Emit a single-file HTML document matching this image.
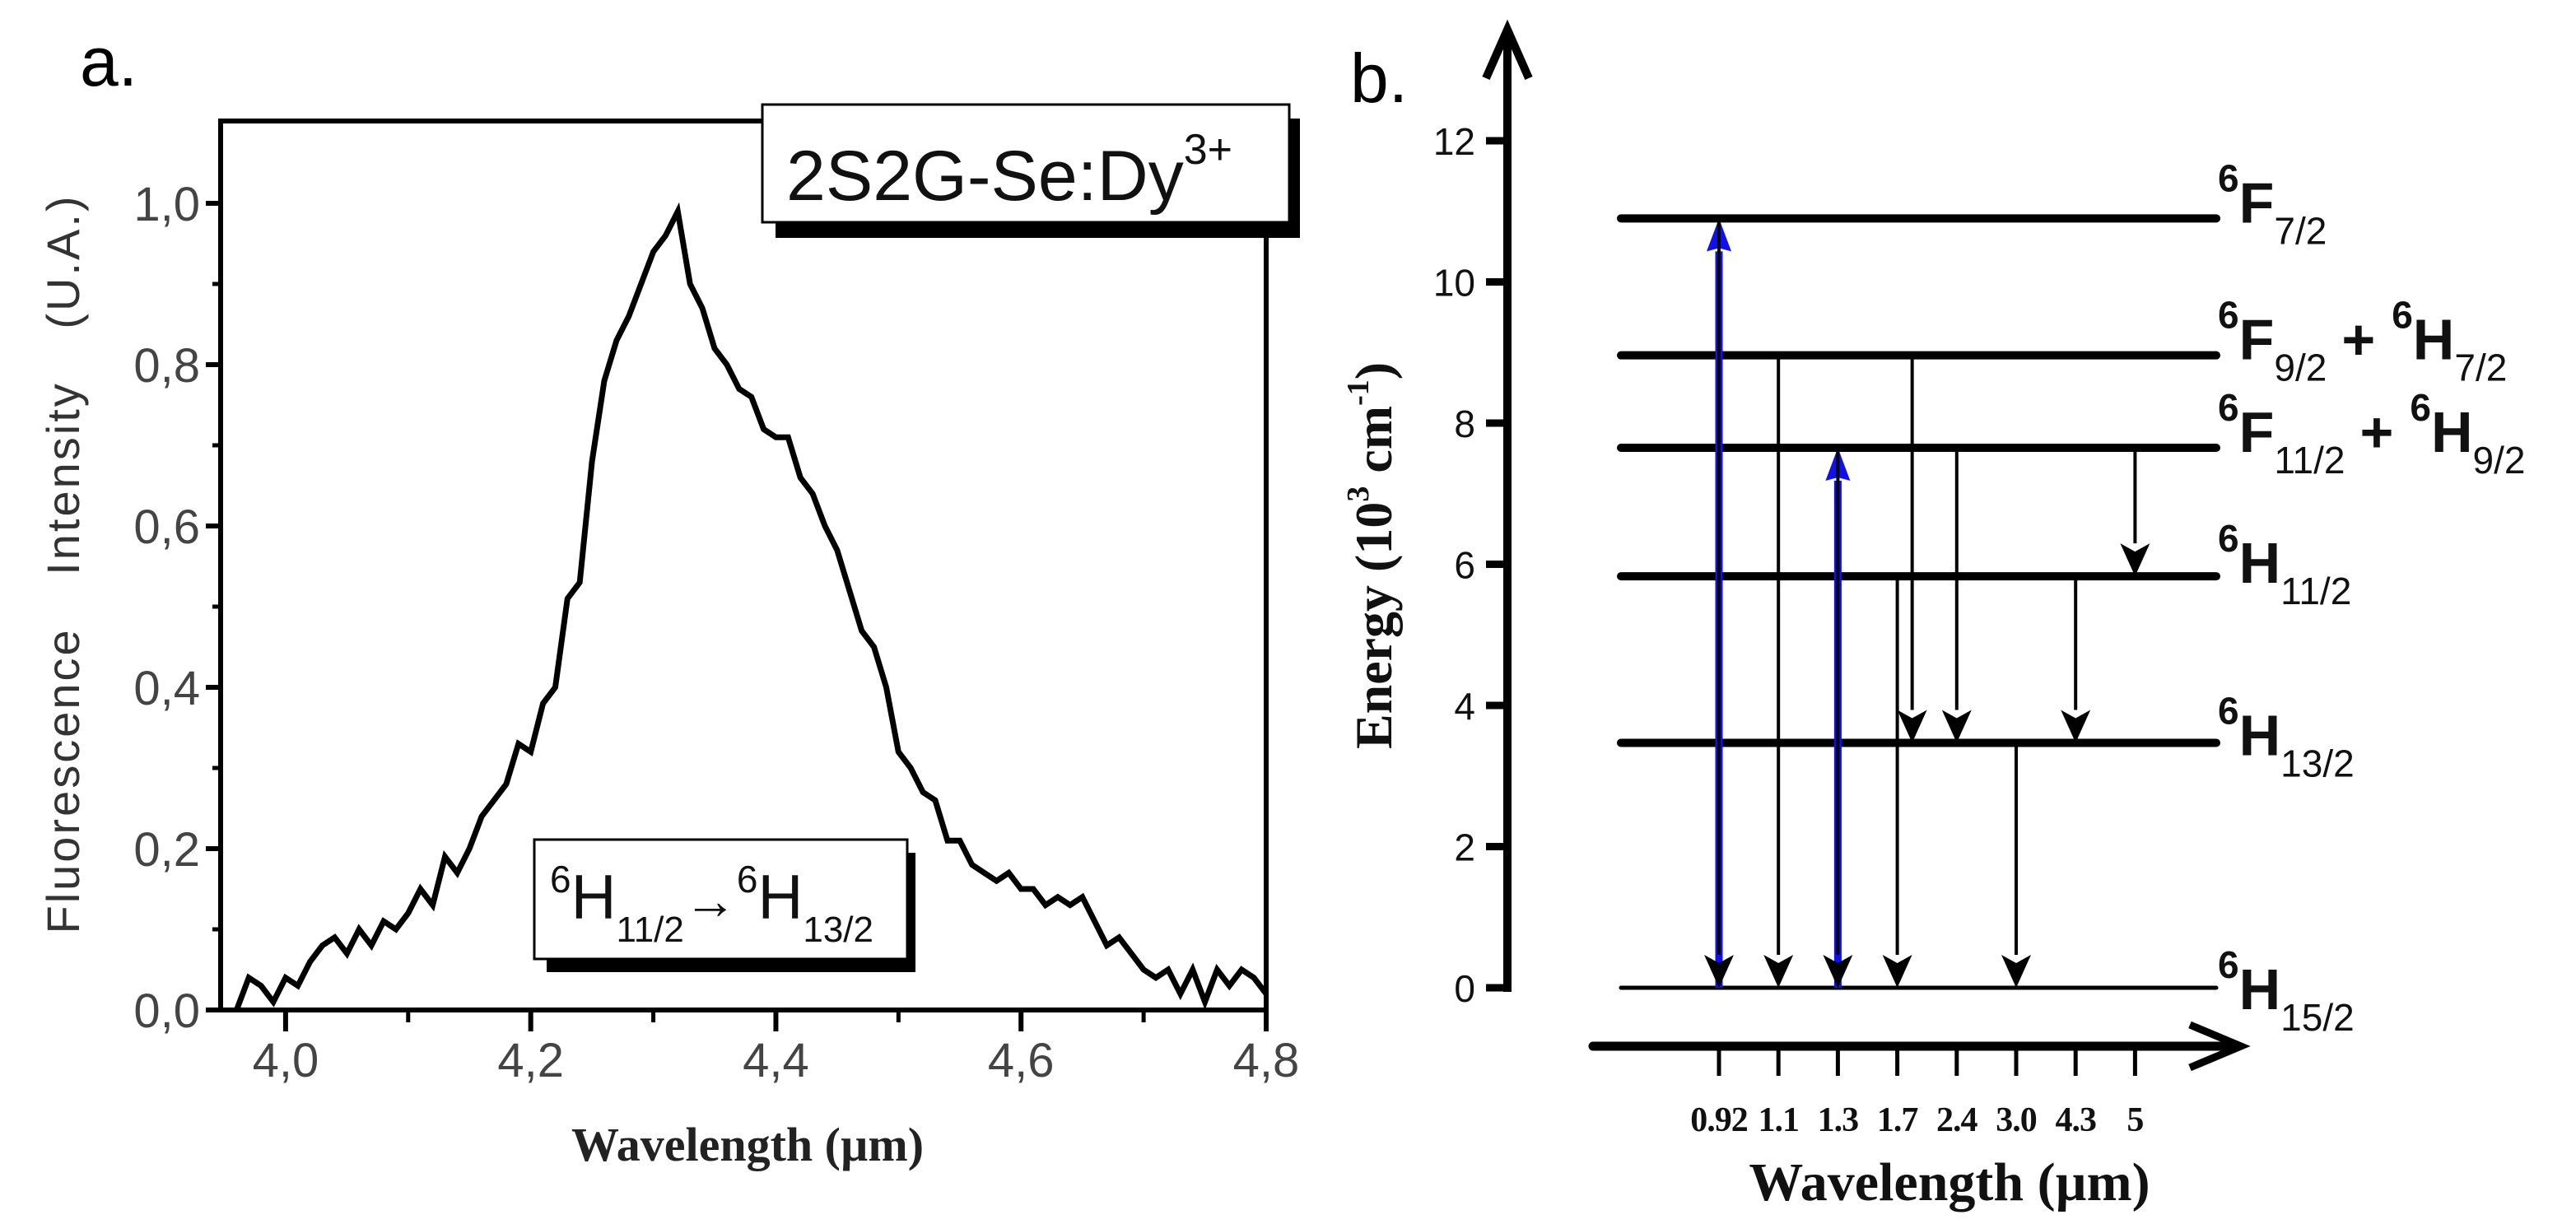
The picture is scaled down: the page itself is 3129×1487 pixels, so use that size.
<!DOCTYPE html>
<html><head><meta charset="utf-8"><style>
html,body{margin:0;padding:0;background:#fff;}
svg{display:block;}
</style></head><body>
<svg id="fig" xmlns="http://www.w3.org/2000/svg" width="3129" height="1487" viewBox="0 0 3129 1487">
<rect x="0" y="0" width="3129" height="1487" fill="#fff"/>
<g id="panelA"></g>
<g id="panelB"></g>
</svg>
<script>
// ---- Panel A data ----
const specX = [3.96,3.97,3.98,3.99,4.00,4.01,4.02,4.03,4.04,4.05,4.06,4.07,4.08,4.09,4.10,4.11,4.12,4.13,4.14,4.15,4.16,4.17,4.18,4.19,4.20,4.21,4.22,4.23,4.24,4.25,4.26,4.27,4.28,4.29,4.30,4.31,4.32,4.33,4.34,4.35,4.36,4.37,4.38,4.39,4.40,4.41,4.42,4.43,4.44,4.45,4.46,4.47,4.48,4.49,4.50,4.51,4.52,4.53,4.54,4.55,4.56,4.57,4.58,4.59,4.60,4.61,4.62,4.63,4.64,4.65,4.66,4.67,4.68,4.69,4.70,4.71,4.72,4.73,4.74,4.75,4.76,4.77,4.78,4.79,4.80];
const specY = [0.00,0.04,0.03,0.01,0.04,0.03,0.06,0.08,0.09,0.07,0.10,0.08,0.11,0.10,0.12,0.15,0.13,0.19,0.17,0.20,0.24,0.26,0.28,0.33,0.32,0.38,0.40,0.51,0.53,0.68,0.78,0.83,0.86,0.90,0.94,0.96,0.99,0.90,0.87,0.82,0.80,0.77,0.76,0.72,0.71,0.71,0.66,0.64,0.60,0.57,0.52,0.47,0.45,0.40,0.32,0.30,0.27,0.26,0.21,0.21,0.18,0.17,0.16,0.17,0.15,0.15,0.13,0.14,0.13,0.14,0.11,0.08,0.09,0.07,0.05,0.04,0.05,0.02,0.05,0.01,0.05,0.03,0.05,0.04,0.02];
const xTickVals = [4.0,4.2,4.4,4.6,4.8];
const xTickLabels = ["4,0","4,2","4,4","4,6","4,8"];
const xMinorVals = [4.1,4.3,4.5,4.7];
const yTickVals = [0,0.2,0.4,0.6,0.8,1.0];
const yTickLabels = ["0,0","0,2","0,4","0,6","0,8","1,0"];
const yMinorVals = [0.1,0.3,0.5,0.7,0.9];

// ---- Panel B data ----
const energyTickVals = [0,2,4,6,8,10,12];
const energyTickLabels = ["0","2","4","6","8","10","12"];
const levelEnergies = [10.9,8.96,7.65,5.83,3.47,0];
const wlCategories = ["0.92","1.1","1.3","1.7","2.4","3.0","4.3","5"];
const transPos  = [0,    0,    1,    2,    2,    3,    3.25, 4,    5,    6,    7];
const transFrom = [0,    10.9, 8.96, 0,    7.65, 5.83, 8.96, 7.65, 3.47, 5.83, 7.65];
const transTo   = [10.9, 0,    0,    7.65, 0,    0,    3.47, 3.47, 0,    3.47, 5.83];
const transBlue = [true, false,false,true, false,false,false,false,false,false,false];

const NS="http://www.w3.org/2000/svg";
function mk(tag, parent, attrs){const e=document.createElementNS(NS,tag);for(const k in attrs)e.setAttribute(k,attrs[k]);parent.appendChild(e);return e;}

// ===== Panel A =====
const A=document.getElementById('panelA');
const L=268,R=1538,T=147,B=1227;
const xMin=3.947,xMax=4.8,yMin=0,yMax=1.102;
const sx=v=>L+(v-xMin)/(xMax-xMin)*(R-L);
const sy=v=>B-(v-yMin)/(yMax-yMin)*(B-T);

let t=mk('text',A,{x:97,y:104,'font-family':'Liberation Sans, sans-serif','font-size':84,fill:'#000'});
t.textContent='a.';



let pts=specX.map((x,i)=>sx(x).toFixed(1)+','+sy(specY[i]).toFixed(1)).join(' ');
let pl=mk('polyline',A,{points:pts,fill:'none',stroke:'#000','stroke-width':7,'stroke-linejoin':'miter'});



let fr=mk('rect',A,{x:L,y:T,width:R-L,height:B-T,fill:'none',stroke:'#000','stroke-width':6});



xTickVals.forEach((v,i)=>{
  let l=mk('line',A,{x1:sx(v),x2:sx(v),y1:B,y2:B+26,stroke:'#000','stroke-width':6});
  
  
  let tx=mk('text',A,{x:sx(v),y:1308,'text-anchor':'middle','font-family':'Liberation Sans, sans-serif','font-size':58,fill:'#444'});
  tx.textContent=xTickLabels[i];
  
  
});
xMinorVals.forEach(v=>{
  let l=mk('line',A,{x1:sx(v),x2:sx(v),y1:B,y2:B+15,stroke:'#000','stroke-width':5});
  
  
});
yTickVals.forEach((v,i)=>{
  let l=mk('line',A,{x1:L-18,x2:L,y1:sy(v),y2:sy(v),stroke:'#000','stroke-width':6});
  
  
  let tx=mk('text',A,{x:243,y:sy(v)+21,'text-anchor':'end','font-family':'Liberation Sans, sans-serif','font-size':58,fill:'#444'});
  tx.textContent=yTickLabels[i];
  
  
});
yMinorVals.forEach(v=>{
  let l=mk('line',A,{x1:L-10,x2:L,y1:sy(v),y2:sy(v),stroke:'#000','stroke-width':5});
  
  
});

let yl=mk('text',A,{x:0,y:0,transform:'translate(96,685) rotate(-90)','text-anchor':'middle','font-family':'Liberation Sans, sans-serif','font-size':56,'letter-spacing':3,'word-spacing':45,fill:'#333'});
yl.textContent='Fluorescence Intensity (U.A.)';



let xl=mk('text',A,{x:908,y:1410,'text-anchor':'middle','font-family':'Liberation Serif, serif','font-weight':'bold','font-size':58,fill:'#222'});
xl.textContent='Wavelength (µm)';



let sh1=mk('rect',A,{x:942,y:144,width:637,height:145,fill:'#000'});


let bx1=mk('rect',A,{x:926,y:127,width:640,height:143,fill:'#fff',stroke:'#000','stroke-width':3});


let st=mk('text',A,{x:955,y:243,'font-family':'Liberation Sans, sans-serif','font-size':86,fill:'#111'});
st.innerHTML='2S2G-Se:Dy<tspan dy="-44" font-size="52">3+</tspan>';



let sh2=mk('rect',A,{x:664,y:1036,width:448,height:145,fill:'#000'});


let bx2=mk('rect',A,{x:649,y:1020,width:453,height:145,fill:'#fff',stroke:'#000','stroke-width':3});


let tt=mk('text',A,{x:668,y:1116,'font-family':'Liberation Sans, sans-serif','font-size':76,fill:'#111'});
tt.innerHTML='<tspan dy="-32" font-size="46">6</tspan><tspan dy="32">H</tspan><tspan dy="28" font-size="44">11/2</tspan><tspan dy="-28" font-size="64">→</tspan><tspan dy="-32" font-size="46">6</tspan><tspan dy="32">H</tspan><tspan dy="28" font-size="44">13/2</tspan>';



// ===== Panel B =====
const P=document.getElementById('panelB');
const AX=1831, E0=1200, EPU=85.75;
const ey=v=>E0-v*EPU;
const cx=i=>2088+i*72.2;
const LV1=1969, LV2=2692;

let tb=mk('text',P,{x:1640,y:124,'font-family':'Liberation Sans, sans-serif','font-size':84,fill:'#000'});
tb.textContent='b.';



let ya=mk('line',P,{x1:AX,x2:AX,y1:ey(0)+5,y2:40,stroke:'#000','stroke-width':10});


let yah=mk('polyline',P,{points:`${AX-26},95 ${AX},36 ${AX+26},95`,fill:'none',stroke:'#000','stroke-width':10});



energyTickVals.forEach((v,i)=>{
  let l=mk('line',P,{x1:AX-26,x2:AX,y1:ey(v),y2:ey(v),stroke:'#000','stroke-width':9});
  
  
  let tx=mk('text',P,{x:1792,y:ey(v)+17,'text-anchor':'end','font-family':'Liberation Sans, sans-serif','font-size':46,fill:'#111'});
  tx.textContent=energyTickLabels[i];
  
  
});

let el=mk('text',P,{x:0,y:0,transform:'translate(1690,675) rotate(-90)','text-anchor':'middle','font-family':'Liberation Serif, serif','font-weight':'bold','font-size':64,fill:'#111'});
el.innerHTML='Energy (10<tspan dy="-28" font-size="38">3</tspan><tspan dy="28"> cm</tspan><tspan dy="-28" font-size="38">-1</tspan><tspan dy="28">)</tspan>';



levelEnergies.forEach((v,i)=>{
  let l=mk('line',P,{x1:LV1,x2:LV2,y1:ey(v),y2:ey(v),stroke:'#000','stroke-width':v===0?5:10,'stroke-linecap':'round'});
  
  
});

const lblSpec=[
  {e:0, html:'<tspan dy="-38" font-size="46">6</tspan><tspan dy="38">F</tspan><tspan dy="26" font-size="46" font-weight="normal">7/2</tspan>', dy:5},
  {e:1, html:'<tspan dy="-38" font-size="46">6</tspan><tspan dy="38">F</tspan><tspan dy="26" font-size="46" font-weight="normal">9/2</tspan><tspan dy="-26" dx="18">+</tspan><tspan dy="-38" dx="20" font-size="46">6</tspan><tspan dy="38">H</tspan><tspan dy="26" font-size="46" font-weight="normal">7/2</tspan>', dy:5},
  {e:2, html:'<tspan dy="-38" font-size="46">6</tspan><tspan dy="38">F</tspan><tspan dy="26" font-size="46" font-weight="normal">11/2</tspan><tspan dy="-26" dx="18">+</tspan><tspan dy="-38" dx="20" font-size="46">6</tspan><tspan dy="38">H</tspan><tspan dy="26" font-size="46" font-weight="normal">9/2</tspan>', dy:5},
  {e:3, html:'<tspan dy="-38" font-size="46">6</tspan><tspan dy="38">H</tspan><tspan dy="26" font-size="46" font-weight="normal">11/2</tspan>', dy:8},
  {e:4, html:'<tspan dy="-38" font-size="46">6</tspan><tspan dy="38">H</tspan><tspan dy="26" font-size="46" font-weight="normal">13/2</tspan>', dy:15},
  {e:5, html:'<tspan dy="-38" font-size="46">6</tspan><tspan dy="38">H</tspan><tspan dy="26" font-size="46" font-weight="normal">15/2</tspan>', dy:26}
];
lblSpec.forEach(s=>{
  let tx=mk('text',P,{x:2694,y:ey(levelEnergies[s.e])+s.dy,'font-family':'Liberation Sans, sans-serif','font-weight':'bold','font-size':70,fill:'#111'});
  tx.innerHTML=s.html;
  
  
});

transPos.forEach((p,i)=>{
  const x=cx(p), y1=ey(transFrom[i]), y2=ey(transTo[i]);
  const col=transBlue[i]?'#1010ee':'#000';
  const w=transBlue[i]?9:4;
  const up=y2<y1;
  const hl=40, hw=up?15:18;
  const tip=y2, base=up?y2+hl:y2-hl;
  let l=mk('line',P,{x1:x,x2:x,y1:y1,y2:base,stroke:col,'stroke-width':w});
  
  
  const notch=up?base-4:base+10;
  let h=mk('polygon',P,{points:`${x-hw},${base} ${x},${tip} ${x+hw},${base} ${x},${notch}`,fill:col});
  
  
});

let wa=mk('line',P,{x1:1935,x2:2715,y1:1271,y2:1271,stroke:'#000','stroke-width':11,'stroke-linecap':'round'});


let wah=mk('polyline',P,{points:`2660,1245 2722,1271 2660,1297`,fill:'none',stroke:'#000','stroke-width':9});


wlCategories.forEach((c,i)=>{
  let l=mk('line',P,{x1:cx(i),x2:cx(i),y1:1271,y2:1307,stroke:'#000','stroke-width':5});
  
  
  let tx=mk('text',P,{x:cx(i),y:1374,'text-anchor':'middle','font-family':'Liberation Serif, serif','font-weight':'bold','font-size':42,'letter-spacing':-1,fill:'#111'});
  tx.textContent=c;
  
  
});
let wl=mk('text',P,{x:2368,y:1458,'text-anchor':'middle','font-family':'Liberation Serif, serif','font-weight':'bold','font-size':66,fill:'#111'});
wl.textContent='Wavelength (µm)';


</script>
</body></html>
